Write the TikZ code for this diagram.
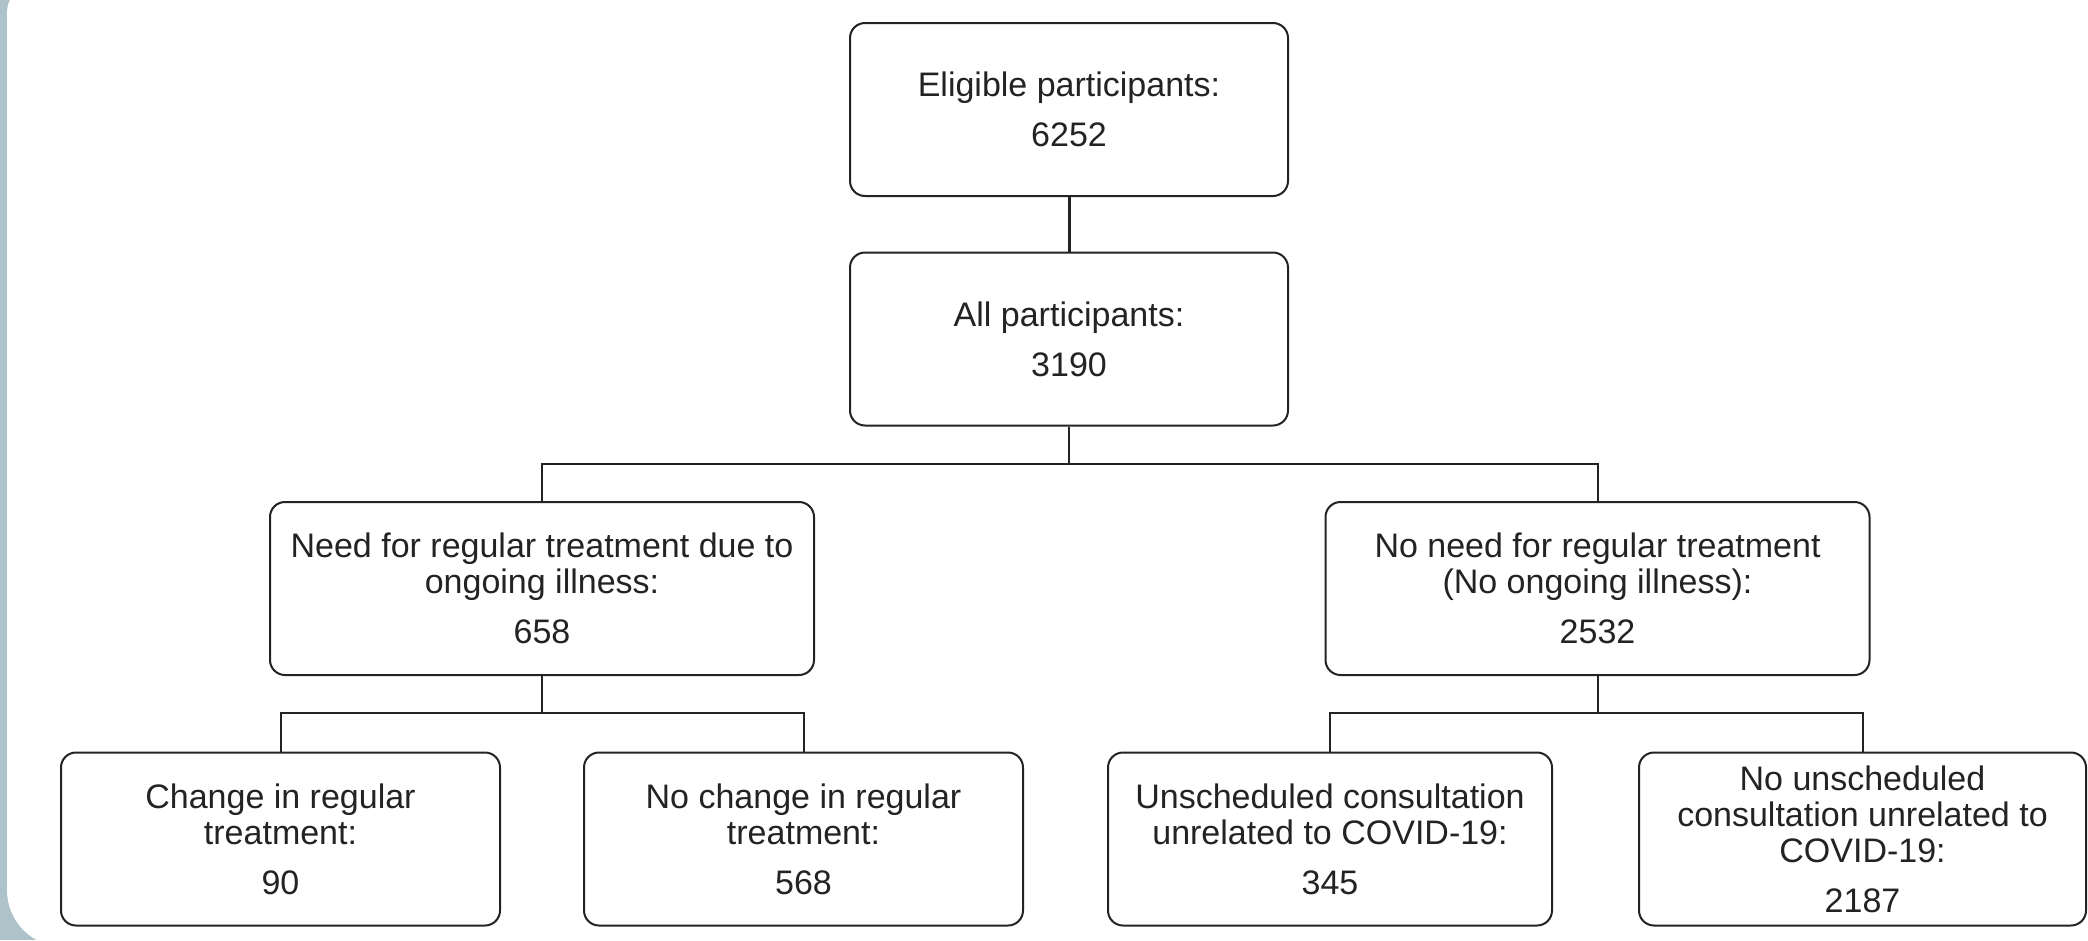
\documentclass[tikz,border=0pt]{standalone}
\usepackage{fontspec}
\setmainfont{Liberation Sans}
\definecolor{framecol}{RGB}{174,194,202}
\definecolor{ink}{RGB}{35,35,35}
\begin{document}
\begin{tikzpicture}[x=1pt,y=-1pt,
  box/.style={draw=ink, line width=2pt, rounded corners=15pt, align=center,
    text=ink, font=\fontsize{34}{36}\selectfont, inner sep=0pt},
  wbox/.style={box, minimum width=438pt, minimum height=173pt},
  mbox/.style={box, minimum width=544pt, minimum height=173pt},
  conn/.style={draw=ink, line width=2pt}]
\useasboundingbox (0,0) rectangle (2088,940);
\fill[framecol] (0,0) rectangle (2088,940);
\fill[white, rounded corners=30pt] (7,-17) rectangle (2300,600);
\fill[white, rounded corners=57pt] (7,300) rectangle (2300,947);

\node[wbox] (b1) at (1069,109.5) {Eligible participants:\\[14pt]6252};
\node[wbox] (b2) at (1069,339) {All participants:\\[14pt]3190};
\node[mbox] (b3) at (542,588.5) {Need for regular treatment due to\\ongoing illness:\\[14pt]658};
\node[mbox] (b4) at (1597.5,588.5) {No need for regular treatment\\(No ongoing illness):\\[14pt]2532};
\node[wbox, minimum width=439pt] (b5) at (280.5,839) {Change in regular\\treatment:\\[14pt]90};
\node[wbox, minimum width=439pt] (b6) at (803.5,839) {No change in regular\\treatment:\\[14pt]568};
\node[wbox, minimum width=444pt] (b7) at (1330,839) {Unscheduled consultation\\unrelated to COVID-19:\\[14pt]345};
\node[wbox, minimum width=447pt] (b8) at (1862.5,839) {No unscheduled\\consultation unrelated to\\COVID-19:\\[14pt]2187};

\coordinate (j1) at (1069,464);
\coordinate (j2) at (542,713);
\coordinate (j3) at (1597.5,713);

\draw[conn, line width=3pt] (b1.south) -- (b2.north);
\draw[conn] (b2.south) -- (j1);
\draw[conn] (b3.north) |- (j1) -| (b4.north);
\draw[conn] (b3.south) -- (j2);
\draw[conn] (b5.north) |- (j2) -| (b6.north);
\draw[conn] (b4.south) -- (j3);
\draw[conn] (b7.north) |- (j3) -| (b8.north);
\end{tikzpicture}
\end{document}
